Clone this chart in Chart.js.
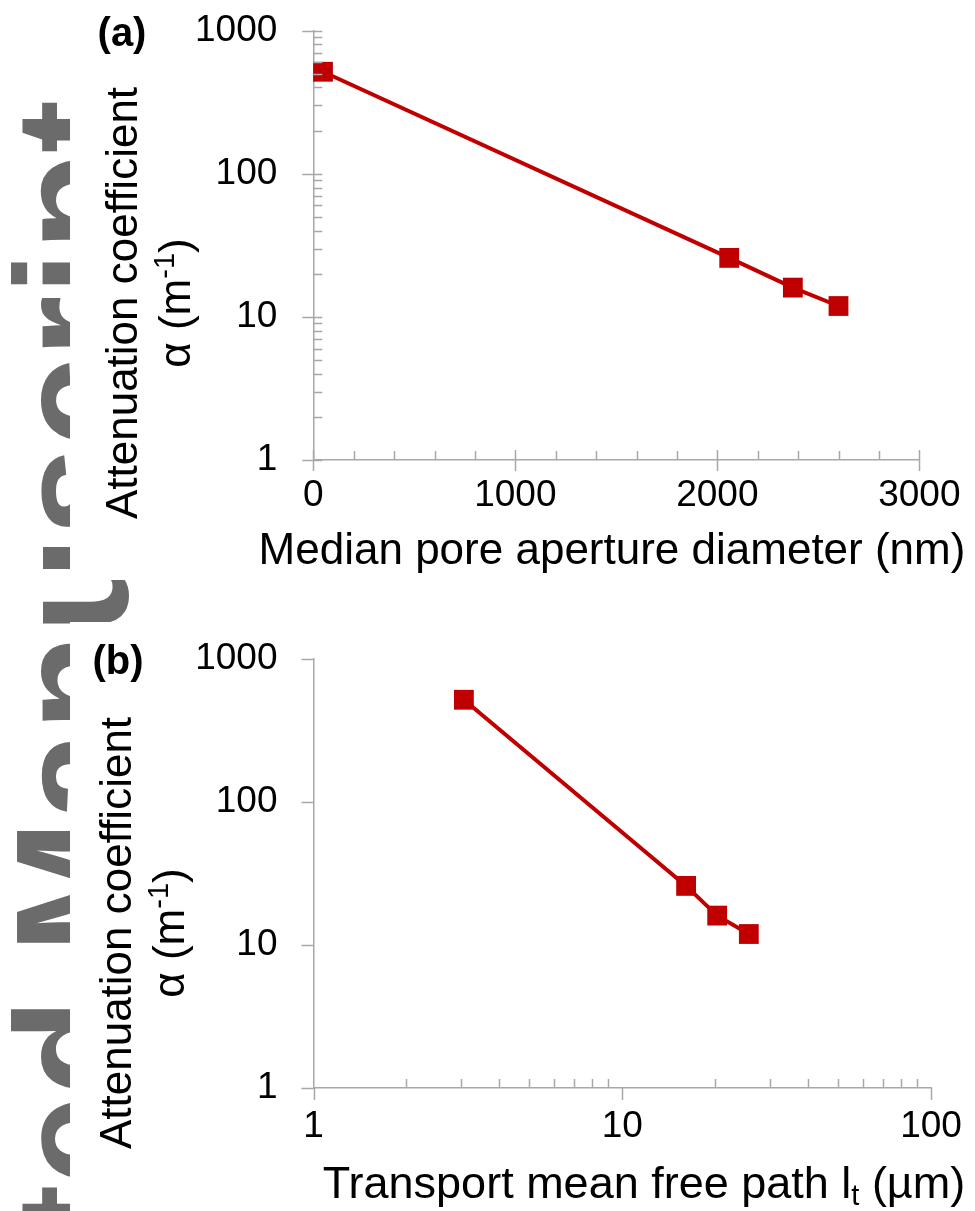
<!DOCTYPE html>
<html>
<head>
<meta charset="utf-8">
<script src="https://cdn.jsdelivr.net/npm/chart.js@4.4.1/dist/chart.umd.min.js"></script>
<style>
html, body { margin: 0; padding: 0; background: #ffffff; }
body { width: 975px; height: 1211px; position: relative; overflow: hidden; }
#wm {
  position: absolute; left: 0; top: 0; width: 2000px; text-align: right; white-space: nowrap;
  font: bold 160px 'Liberation Sans', Arial, sans-serif; line-height: 160px; color: #6b6b6b;
  transform-origin: 0 0; transform: translate(-8px, 2100px) rotate(-90deg);
}
canvas { position: absolute; left: 70px; display: block; background: #ffffff; }
#chartA { top: 0; }
#chartB { top: 622px; }
</style>
</head>
<body>
<div id="wm">Accepted Manuscript</div>
<canvas id="chartA" width="905" height="580"></canvas>
<canvas id="chartB" width="905" height="589"></canvas>
<script>
// ---------------- data ----------------
const poreDiameterNm   = [48, 2059, 2374, 2600];      // panel (a) x
const transportPathUm  = [3.07, 16.1, 20.3, 25.7];    // panel (b) x
const attenuationCoeff = [515, 25.8, 16.0, 11.9];     // alpha (m^-1), both panels

const yTickValues  = [1, 10, 100, 1000];
const xTickValuesA = [0, 1000, 2000, 3000];
const xTickValuesB = [1, 10, 100];
const panelLabels  = ['(a)', '(b)'];

const yTitleLines = [
  [{ t: 'Attenuation coefficient' }],
  [{ t: 'α (m' }, { t: '-1', sup: true }, { t: ')' }]
];
const xTitleA = [{ t: 'Median pore aperture diameter (nm)' }];
const xTitleB = [{ t: 'Transport mean free path l' }, { t: 't', sub: true }, { t: ' (µm)' }];

// ---------------- styles ----------------
const FONT = "'Liberation Sans', Arial, Helvetica, sans-serif";
const RED = '#C00000';
const AXIS = '#a8a8a8';
const TICK_SIZE = 37;
const OX = 70;   // canvas left offset on the page

function logMinor(lo, hi) {
  const out = [];
  for (let d = lo; d < hi; d *= 10) for (let k = 2; k <= 9; k++) out.push(d * k);
  return out;
}
function linMinor(lo, hi, step) {
  const out = [];
  for (let v = lo + step; v < hi; v += step) if (v % 1000 !== 0) out.push(v);
  return out;
}

function fontStr(seg, size) {
  const s = (seg.sup || seg.sub) ? Math.round(size * 0.65) : size;
  return (seg.bold ? 'bold ' : '') + s + 'px ' + FONT;
}
function drawRich(ctx, segs, size, ax, ay, rotated) {
  ctx.save();
  ctx.translate(ax, ay);
  if (rotated) ctx.rotate(-Math.PI / 2);
  ctx.textBaseline = 'alphabetic';
  ctx.textAlign = 'left';
  let w = 0;
  for (const s of segs) { ctx.font = fontStr(s, size); w += ctx.measureText(s.t).width; }
  let x = -w / 2;
  for (const s of segs) {
    ctx.font = fontStr(s, size);
    const dy = s.sup ? -size * 0.36 : (s.sub ? size * 0.16 : 0);
    ctx.fillText(s.t, x, dy);
    x += ctx.measureText(s.t).width;
  }
  ctx.restore();
}

const decorPlugin = {
  id: 'decor',
  afterDraw(chart, args, o) {
    const ctx = chart.ctx;
    const xs = chart.scales.x, ys = chart.scales.y;
    const L = chart.chartArea.left, B = chart.chartArea.bottom;
    ctx.save();
    ctx.strokeStyle = AXIS;
    ctx.lineWidth = 1.5;
    ctx.beginPath();
    for (const v of o.yMajor) { const p = Math.round(ys.getPixelForValue(v)) + 0.5; ctx.moveTo(L - o.yMajorOut, p); ctx.lineTo(L + o.yMajorIn, p); }
    for (const v of o.yMinor) { const p = Math.round(ys.getPixelForValue(v)) + 0.5; ctx.moveTo(L, p); ctx.lineTo(L + o.minorLen, p); }
    for (const v of o.xMajor) { const p = Math.round(xs.getPixelForValue(v)) + 0.5; ctx.moveTo(p, B + o.xMajorOut); ctx.lineTo(p, B - o.xMajorIn); }
    for (const v of o.xMinor) { const p = Math.round(xs.getPixelForValue(v)) + 0.5; ctx.moveTo(p, B); ctx.lineTo(p, B - o.minorLen); }
    ctx.stroke();
    // texts in page coordinates
    ctx.translate(-OX, 0);
    ctx.fillStyle = '#000000';
    ctx.font = 'bold ' + o.panelSize + 'px ' + FONT;
    ctx.textAlign = 'center'; ctx.textBaseline = 'middle';
    ctx.fillText(o.panel, o.panelX, o.panelY);
    drawRich(ctx, yTitleLines[0], o.yTitleSize, o.yTitleX1, o.yTitleY, true);
    drawRich(ctx, yTitleLines[1], o.yTitleSize, o.yTitleX2, o.yTitleY, true);
    drawRich(ctx, o.xTitle, o.xTitleSize, o.xTitleX, o.xTitleY, false);
    ctx.restore();
  }
};

function makeChart(id, cfg) {
  const pts = cfg.xs.map((x, i) => ({ x: x, y: attenuationCoeff[i] }));
  return new Chart(document.getElementById(id), {
    type: 'scatter',
    data: { datasets: [{
      data: pts, showLine: true, borderColor: RED, backgroundColor: RED,
      borderWidth: 4, pointStyle: 'rect', pointRadius: 14, pointHoverRadius: 14,
      pointBorderWidth: 0, pointBackgroundColor: RED, clip: false
    }] },
    plugins: [decorPlugin],
    options: {
      responsive: false, animation: false, events: [],
      layout: { padding: cfg.padding },
      plugins: { legend: { display: false }, tooltip: { enabled: false }, decor: cfg.decor },
      scales: {
        x: Object.assign({
          position: 'bottom',
          afterBuildTicks: s => { s.ticks = cfg.xTicks.map(v => ({ value: v })); },
          afterFit: s => { s.height = cfg.xHeight; },
          ticks: { callback: v => String(v), font: { family: FONT, size: TICK_SIZE }, color: '#000', padding: 0, maxRotation: 0, autoSkip: false },
          grid: { display: true, drawOnChartArea: false, drawTicks: true, tickLength: cfg.xTickLen, tickColor: 'rgba(0,0,0,0)' },
          border: { display: true, color: AXIS, width: 1.5 }
        }, cfg.xScale),
        y: {
          type: 'logarithmic', position: 'left', min: 1, max: 1000,
          afterBuildTicks: s => { s.ticks = yTickValues.map(v => ({ value: v })); },
          afterFit: s => { s.width = cfg.yWidth; },
          ticks: { callback: v => String(v), font: { family: FONT, size: TICK_SIZE }, color: '#000', padding: 0, autoSkip: false },
          grid: { display: true, drawOnChartArea: false, drawTicks: true, tickLength: 36, tickColor: 'rgba(0,0,0,0)' },
          border: { display: true, color: AXIS, width: 1.5 }
        }
      }
    }
  });
}

makeChart('chartA', {
  xs: poreDiameterNm,
  xTicks: xTickValuesA,
  xScale: { type: 'linear', min: 0, max: 3000 },
  padding: { left: 0, right: 55.7, top: 30.5, bottom: 0 },
  xHeight: 120, yWidth: 313.3 - OX, xTickLen: 14,
  decor: {
    yMajor: yTickValues, yMinor: logMinor(1, 1000), yMajorOut: 11, yMajorIn: 9,
    xMajor: xTickValuesA, xMinor: linMinor(0, 3000, 200), xMajorOut: 11, xMajorIn: 10,
    minorLen: 9,
    panel: panelLabels[0], panelSize: 40, panelX: 122, panelY: 35,
    yTitleSize: 44, yTitleX1: 137, yTitleX2: 190, yTitleY: 303,
    xTitle: xTitleA, xTitleSize: 44, xTitleX: 612, xTitleY: 564
  }
});

makeChart('chartB', {
  xs: transportPathUm,
  xTicks: xTickValuesB,
  xScale: { type: 'logarithmic', min: 1, max: 100 },
  padding: { left: 0, right: 44, top: 36.5, bottom: 0 },
  xHeight: 123, yWidth: 313.5 - OX, xTickLen: 17,
  decor: {
    yMajor: yTickValues, yMinor: [], yMajorOut: 12, yMajorIn: 0,
    xMajor: xTickValuesB, xMinor: logMinor(1, 100), xMajorOut: 12, xMajorIn: 0,
    minorLen: 9,
    panel: panelLabels[1], panelSize: 40, panelX: 118, panelY: 41,
    yTitleSize: 44, yTitleX1: 131, yTitleX2: 184, yTitleY: 311,
    xTitle: xTitleB, xTitleSize: 45, xTitleX: 644, xTitleY: 576
  }
});
</script>
</body>
</html>
